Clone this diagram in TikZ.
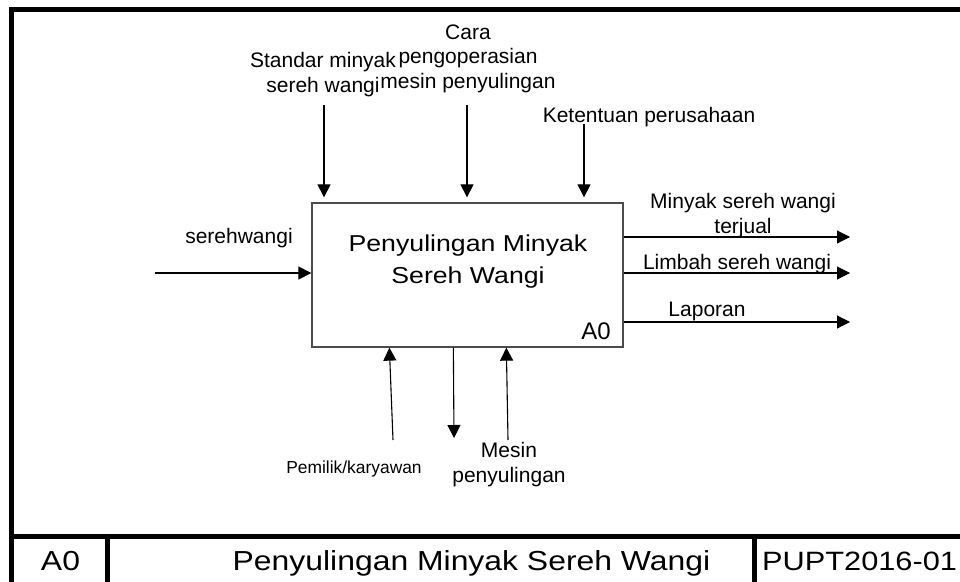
\documentclass[tikz,border=0pt]{standalone}
\usepackage{fontspec}
\setmainfont{Liberation Sans}
\newfontfamily\widef[FakeStretch=1.16]{Liberation Sans}
\usetikzlibrary{arrows.meta}
\begin{document}
\begin{tikzpicture}[x=1pt,y=-1pt,
  arr/.style={draw=black, line width=1.1pt, -{Triangle[length=13pt,width=13pt]}},
  lab/.style={font=\fontsize{21}{24.5}\selectfont, inner sep=0pt, align=center, anchor=base},
  smalllab/.style={font=\fontsize{17.4}{22}\selectfont, inner sep=0pt, align=center, anchor=base},
  framel/.style={line width=5pt, black, line join=miter},
  procbox/.style={draw=black!70, line width=1.3pt, minimum width=311pt, minimum height=144pt, inner sep=0pt},
  boxtext/.style={font=\widef\fontsize{23}{32}\selectfont, inner sep=0pt, align=center, anchor=base},
  titletext/.style={font=\widef\fontsize{27.5}{30}\selectfont, inner sep=0pt, anchor=base}
]
\useasboundingbox (0,0) rectangle (960,581);
\begin{scope}
\clip (0,0) rectangle (960,581);
\draw[framel] (970,9.5) -- (11.5,9.5) -- (11.5,590);
\draw[framel] (11.5,536) -- (970,536);
\draw[framel] (107.5,536) -- (107.5,590);
\draw[framel] (754.5,536) -- (754.5,590);
\end{scope}

% process box
\node[procbox] (box) at (467.5,275) {};
\node[boxtext] (boxlbl) at (468,283) {Penyulingan Minyak\\Sereh Wangi};
\node[font=\fontsize{24}{26}\selectfont, inner sep=0pt, anchor=base east] (boxid) at (611,339) {A0};

% controls
\coordinate (c1) at (324,105);
\coordinate (c2) at (467,105);
\coordinate (c3) at (584,124);
\draw[arr, shorten >=5pt] (c1) -- (c1 |- box.north);
\draw[arr, shorten >=5pt] (c2) -- (c2 |- box.north);
\draw[arr, shorten >=5pt] (c3) -- (c3 |- box.north);
\node[lab] (l1) at (323,92) {Standar minyak\\sereh wangi};
\node[lab] (l2) at (468,88) {Cara\\pengoperasian\\mesin penyulingan};
\node[lab] (l3) at (649,122) {Ketentuan perusahaan};

% input
\coordinate (i1) at (155,273);
\draw[arr] (i1) -- (i1 -| box.west);
\node[lab] (li1) at (239,243) {serehwangi};

% outputs
\coordinate (o1) at (850,237);
\coordinate (o2) at (850,273);
\coordinate (o3) at (850,322);
\draw[arr] (o1 -| box.east) -- (o1);
\draw[arr] (o2 -| box.east) -- (o2);
\draw[arr] (o3 -| box.east) -- (o3);
\node[lab] (lo1) at (743,233) {Minyak sereh wangi\\terjual};
\node[lab] (lo2) at (737,269) {Limbah sereh wangi};
\node[lab] (lo3) at (707,316) {Laporan};

% mechanisms
\coordinate (m1) at (393,440);
\coordinate (m2) at (454,438);
\coordinate (m3) at (508,440);
\draw[arr] (m1) -- ([xshift=78pt]box.south west);
\draw[arr] ([xshift=142pt]box.south west) -- (m2);
\draw[arr] (m3) -- ([xshift=195pt]box.south west);
\node[smalllab] (lm1) at (354,473) {Pemilik/karyawan};
\node[lab] (lm3) at (509,482) {Mesin\\penyulingan};

% title bar
\node[titletext] (tid) at (60.5,570) {A0};
\node[titletext] (ttl) at (471.5,570) {Penyulingan Minyak Sereh Wangi};
\node[titletext, font=\widef\fontsize{26.5}{30}\selectfont, anchor=base west] (tnum) at (762,570) {PUPT2016-01};
\end{tikzpicture}
\end{document}
